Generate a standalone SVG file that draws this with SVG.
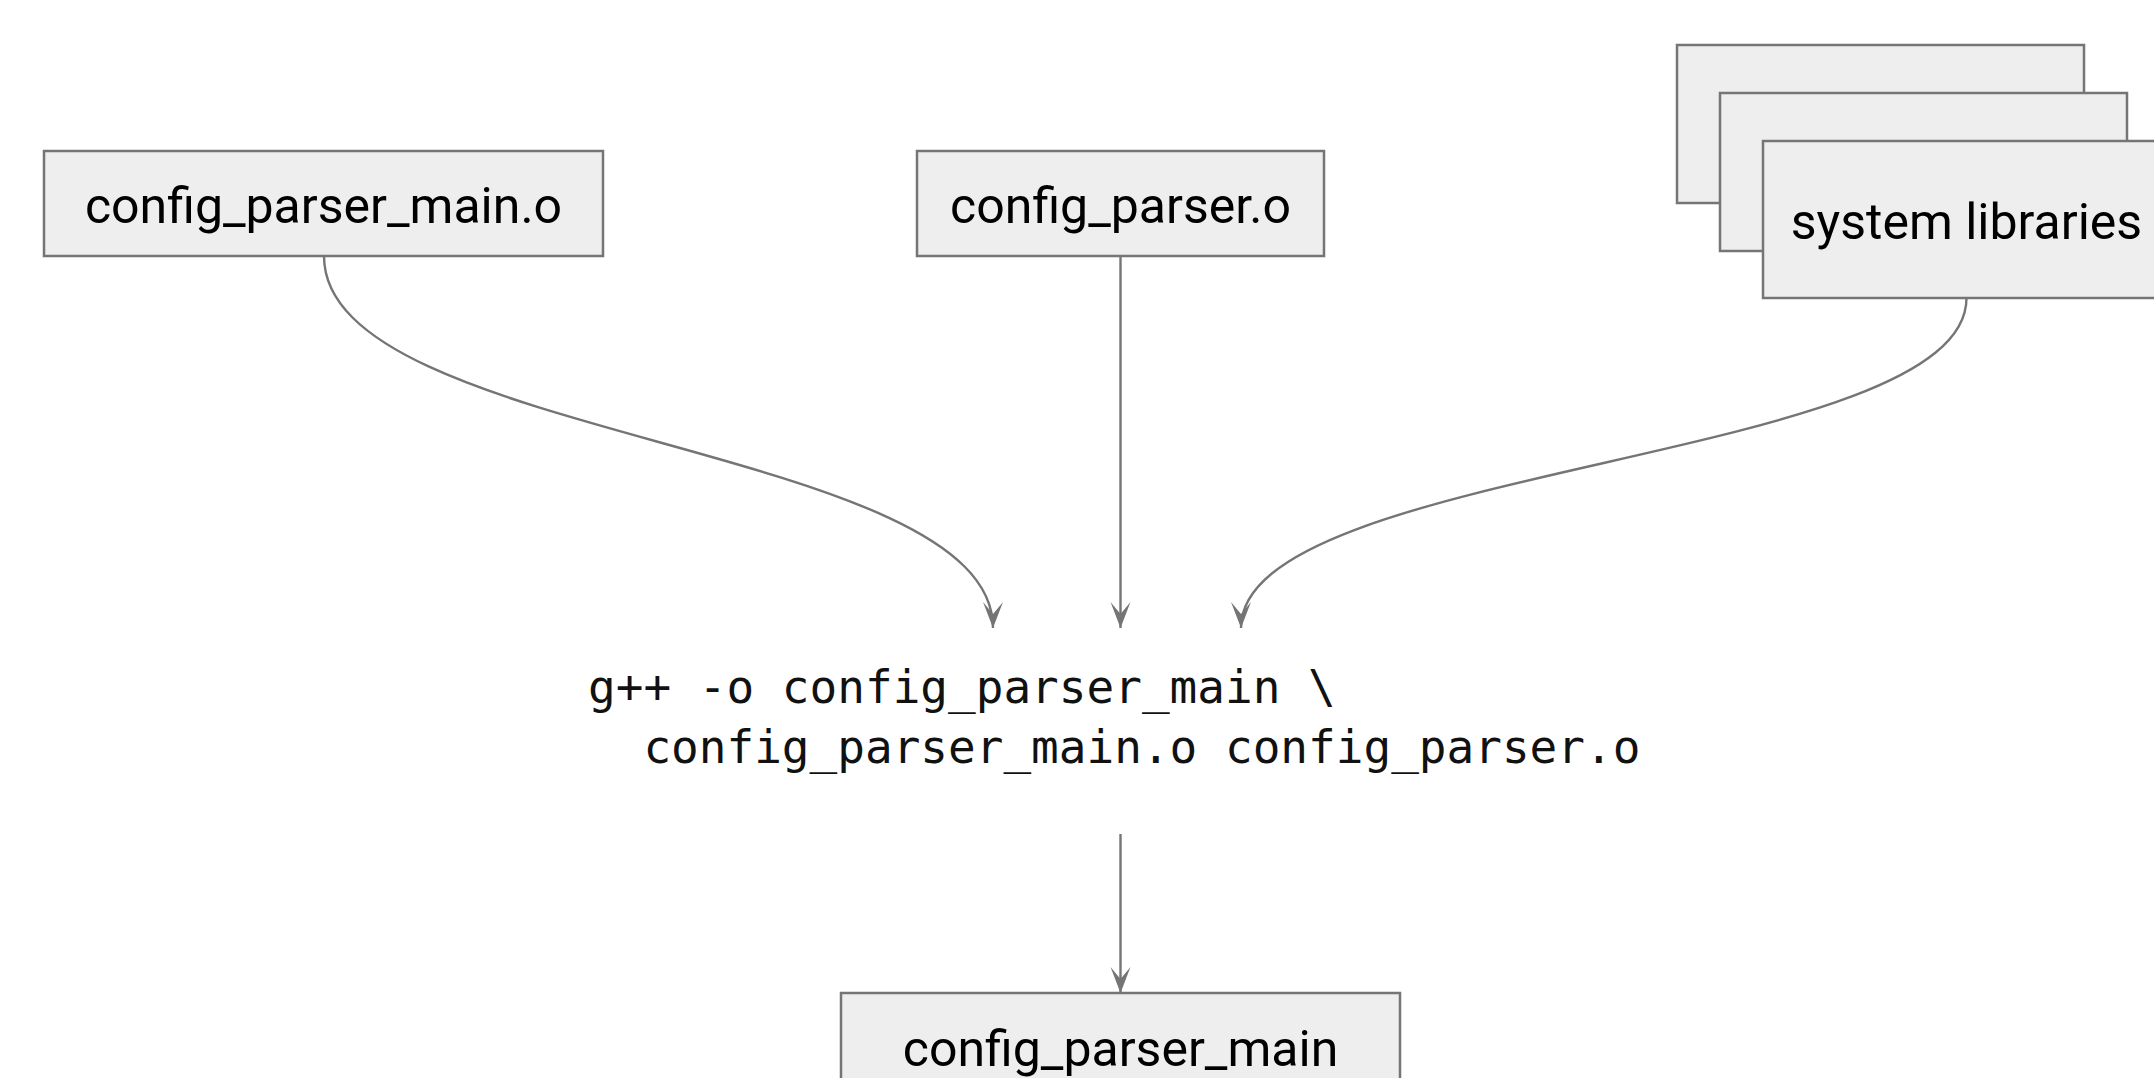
<svg xmlns="http://www.w3.org/2000/svg" width="2154" height="1078" viewBox="0 0 2154 1078">
<style>
.box{fill:#eeeeee;stroke:#757575;stroke-width:2.5}
.lbl{font-family:Roboto,"Liberation Sans",sans-serif;font-size:50px;fill:#000;text-anchor:middle}
.cmd{font-family:"DejaVu Sans Mono","Liberation Mono",monospace;font-size:46px;fill:#111}
.conn{fill:none;stroke:#757575;stroke-width:2.4}
</style>
<defs>
<marker id="arr" markerUnits="userSpaceOnUse" markerWidth="32" markerHeight="26" viewBox="-29 -13 32 26" refX="0" refY="0" orient="auto">
<path d="M0,0 L-26,-10 L-14,0 L-26,10 Z" fill="#757575"/>
</marker>
</defs>
<rect width="2154" height="1078" fill="#ffffff"/>
<g id="connectors">
<path class="conn" d="M324,256 C324,442 993,442 993,628" marker-end="url(#arr)"/>
<path class="conn" d="M1120.5,256 L1120.5,628" marker-end="url(#arr)"/>
<path class="conn" d="M1966.5,298 C1966.5,463 1241,463 1241,628" marker-end="url(#arr)"/>
<path class="conn" d="M1120.5,834 L1120.5,993" marker-end="url(#arr)"/>
</g>
<g id="node-config-parser-main-o">
<rect class="box" x="44" y="151" width="559" height="105"/>
<text class="lbl" x="323.5" y="223">config_parser_main.o</text>
</g>
<g id="node-config-parser-o">
<rect class="box" x="917" y="151" width="407" height="105"/>
<text class="lbl" x="1120.5" y="223">config_parser.o</text>
</g>
<g id="node-system-libraries">
<rect class="box" x="1677" y="45" width="407" height="158"/>
<rect class="box" x="1720" y="93" width="407" height="158"/>
<rect class="box" x="1763" y="141" width="407" height="157"/>
<text class="lbl" x="1966.5" y="239">system libraries</text>
</g>
<g id="node-command">
<text class="cmd" x="588" y="703" xml:space="preserve">g++ -o config_parser_main \</text>
<text class="cmd" x="588" y="763" xml:space="preserve">  config_parser_main.o config_parser.o</text>
</g>
<g id="node-config-parser-main">
<rect class="box" x="841" y="993" width="559" height="110"/>
<text class="lbl" x="1120.5" y="1066">config_parser_main</text>
</g>
</svg>
